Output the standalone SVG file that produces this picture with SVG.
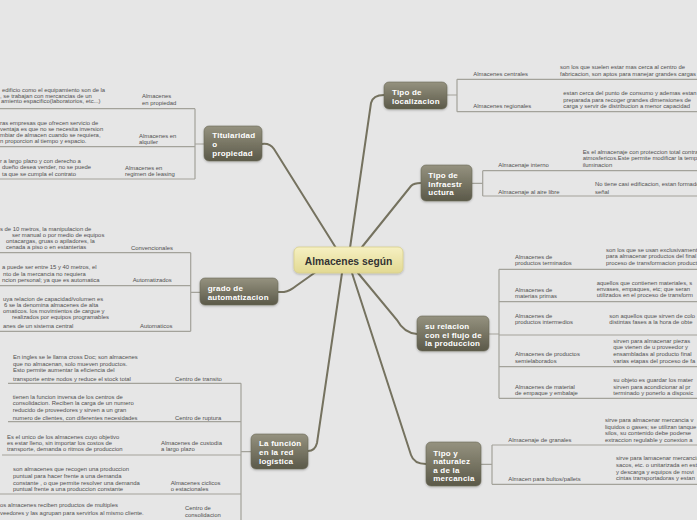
<svg xmlns="http://www.w3.org/2000/svg" width="697" height="520" viewBox="0 0 697 520">
<style>
.t{font-family:"Liberation Sans",Arial,sans-serif;font-size:5.9px;fill:#505050}
.n{font-family:"Liberation Sans",Arial,sans-serif;font-size:8px;font-weight:bold;fill:#ffffff;letter-spacing:0.2px}
.c{font-family:"Liberation Sans",Arial,sans-serif;font-size:10.3px;font-weight:bold;fill:#333333}
.br{stroke:#a3a29a;stroke-width:1.2;fill:none}
.cn{stroke:#75725f;stroke-width:2;fill:none;stroke-linecap:round}
.mn{fill:url(#gm);stroke:#6a6858;stroke-width:0.6;filter:url(#sh)}
</style>
<defs>
<linearGradient id="gm" x1="0" y1="0" x2="0" y2="1"><stop offset="0" stop-color="#95927f"/><stop offset="1" stop-color="#5b5949"/></linearGradient>
<linearGradient id="gc" x1="0" y1="0" x2="0" y2="1"><stop offset="0" stop-color="#f6f0c2"/><stop offset="1" stop-color="#e2d992"/></linearGradient>
<filter id="sh" x="-20%" y="-20%" width="140%" height="150%"><feDropShadow dx="0" dy="1" stdDeviation="0.8" flood-color="#000" flood-opacity="0.25"/></filter>
</defs>
<rect width="697" height="520" fill="#e6e6e6"/>

<g id="connectors">
<path class="cn" d="M350,248 L371,103 Q373,95 384,95"/>
<path class="cn" d="M362,247 L411,186 Q414,183 421,183"/>
<path class="cn" d="M358,273 L397,320 Q404,333 417,334"/>
<path class="cn" d="M352,273 L411,455 Q414,464 426,464"/>
<path class="cn" d="M262,144 Q270,143 274,149 L336,248"/>
<path class="cn" d="M278,292 L284,292 Q290,291 296,286 L320,269"/>
<path class="cn" d="M308,451 Q315,451 317,443 L342,273"/>
<path class="br" d="M447,95 H457 M457,79.3 V111.7 M457,79.3 H697 M457,111.7 H697"/>
<path class="br" d="M472,183.3 H482.7 M482.7,170.7 V196 M482.7,170.7 H697 M482.7,196 H697"/>
<path class="br" d="M489,334 H499 M499,269.3 V398.3 M499,269.3 H697 M499,301.7 H697 M499,335 H697 M499,366.7 H697 M499,398.3 H697"/>
<path class="br" d="M481,464.3 H492 M492,445 V484.3 M492,445 H697 M492,484.3 H697"/>
<path class="br" d="M204,144 H195 M195,108.7 V179 M0,108.7 H195 M0,146.7 H195 M0,179 H195"/>
<path class="br" d="M200,292.3 H190.7 M190.7,252.7 V331.3 M0,252.7 H190.7 M0,285.7 H190.7 M0,331.3 H190.7"/>
<path class="br" d="M251,451.7 H241 M241,383.3 V520 M8,383.3 H241 M8,421.7 H241 M2,455 H241 M0,494 H241"/>
</g>

<g id="center">
<rect x="294" y="247" width="109" height="26" rx="5" fill="url(#gc)" stroke="#d8cf8c" stroke-width="0.8" filter="url(#sh)"/>
<text class="c" x="348.5" y="264.5" text-anchor="middle">Almacenes según</text>
</g>

<g id="tipo-localizacion">
<rect class="mn" x="384" y="82" width="63" height="27" rx="5"/>
<text class="n" x="392" y="94.5">Tipo de</text>
<text class="n" x="392" y="103.5">localizacion</text>
</g>
<g id="loc-items">
<text class="t" x="473.3" y="76">Almacenes centrales</text>
<text class="t" x="560" y="69">son los que suelen estar mas cerca al centro de</text>
<text class="t" x="560" y="76">fabricacion, son aptos para manejar grandes cargas</text>
<text class="t" x="473.3" y="108">Almacenes regionales</text>
<text class="t" x="563.3" y="95">estan cerca del punto de consumo y ademas estan</text>
<text class="t" x="563.3" y="101.5">preparada para recoger grandes dimensiones de</text>
<text class="t" x="563.3" y="108">carga y servir de distribucion a menor capacidad</text>
</g>

<g id="tipo-infraestructura">
<rect class="mn" x="421" y="165" width="51" height="36" rx="5"/>
<text class="n" x="428.3" y="178">Tipo de</text>
<text class="n" x="428.3" y="186.5">Infraestr</text>
<text class="n" x="428.3" y="195">uctura</text>
</g>
<g id="infra-items">
<text class="t" x="498.3" y="166.7">Almacenaje interno</text>
<text class="t" x="582.7" y="154">Es el almacenaje con proteccion total contra</text>
<text class="t" x="582.7" y="160.3">atmosfericos.Este permite modificar la temperatura</text>
<text class="t" x="582.7" y="166.7">iluminacion</text>
<text class="t" x="498.3" y="193.7">Almacenaje al aire libre</text>
<text class="t" x="595" y="186.3">No tiene casi edificacion, estan formados</text>
<text class="t" x="595" y="193.7">señal</text>
</g>

<g id="relacion-flujo">
<rect class="mn" x="417" y="316" width="72" height="35" rx="5"/>
<text class="n" x="425" y="328.5">su relacion</text>
<text class="n" x="425" y="337.5">con el flujo de</text>
<text class="n" x="425" y="346">la produccion</text>
</g>
<g id="relacion-items">
<text class="t" x="515" y="258.7">Almacenes de</text>
<text class="t" x="515" y="265.3">productos terminados</text>
<text class="t" x="606" y="252">son los que se usan exclusivamente</text>
<text class="t" x="606" y="258.3">para almacenar productos del final</text>
<text class="t" x="606" y="264.7">proceso de transformacion productivo</text>
<text class="t" x="515" y="292">Almacenes de</text>
<text class="t" x="515" y="298">materias primas</text>
<text class="t" x="596.7" y="284.7">aquellos que contienen materiales, s</text>
<text class="t" x="596.7" y="291">envases, empaques, etc; que seran</text>
<text class="t" x="596.7" y="297.3">utilizados en el proceso de transform</text>
<text class="t" x="515" y="317.5">Almacenes de</text>
<text class="t" x="515" y="324">productos intermedios</text>
<text class="t" x="609.3" y="317.5">son aquellos quue sirven de colo</text>
<text class="t" x="609.3" y="324">distintas fases a la hora de obte</text>
<text class="t" x="515" y="356">Almacenes de productos</text>
<text class="t" x="515" y="363.3">semielaborados</text>
<text class="t" x="613.3" y="342.7">sirven para almacenar piezas</text>
<text class="t" x="613.3" y="349.3">que vienen de u proveedor y</text>
<text class="t" x="613.3" y="356">ensambladas al producto final</text>
<text class="t" x="613.3" y="363.3">varias etapas del proceso de fa</text>
<text class="t" x="515" y="388.7">Almacenes de material</text>
<text class="t" x="515" y="395.3">de empaque y embalaje</text>
<text class="t" x="613.3" y="382">su objeto es guardar los mater</text>
<text class="t" x="613.3" y="388.7">sirven para acondicionar al pr</text>
<text class="t" x="613.3" y="395.3">terminado y ponerlo a disposic</text>
</g>

<g id="tipo-naturaleza">
<rect class="mn" x="426" y="442" width="55" height="44" rx="5"/>
<text class="n" x="433.3" y="455.5">Tipo y</text>
<text class="n" x="433.3" y="464">naturalez</text>
<text class="n" x="433.3" y="472.5">a de la</text>
<text class="n" x="433.3" y="481">mercancia</text>
</g>
<g id="naturaleza-items">
<text class="t" x="508.3" y="442">Almacenaje de granales</text>
<text class="t" x="605" y="422">sirve para almacenar mercancia v</text>
<text class="t" x="605" y="428.7">liquidos o gases; se utilizan tanque</text>
<text class="t" x="605" y="435.3">silos, su contenido debe poderse</text>
<text class="t" x="605" y="442">extraccion regulable y conexion a</text>
<text class="t" x="508.3" y="481">Almacen para bultos/pallets</text>
<text class="t" x="616" y="460.3">sirve para lamacenar mercancia</text>
<text class="t" x="616" y="467">sacos, etc. o unitarizada en est</text>
<text class="t" x="616" y="473.7">y descarga y equipos de movi</text>
<text class="t" x="616" y="480.3">cintas transportadoras y estan</text>
</g>

<g id="titularidad">
<rect class="mn" x="204" y="126" width="58" height="35" rx="5"/>
<text class="n" x="212.3" y="138">Titularidad</text>
<text class="n" x="212.3" y="146.8">o</text>
<text class="n" x="212.3" y="155.5">propiedad</text>
</g>
<g id="titularidad-items">
<text class="t" x="142" y="98">Almacenes</text>
<text class="t" x="142" y="104.7">en propiedad</text>
<text class="t" x="2" y="92">edificio como el equipamiento son de la</text>
<text class="t" x="0" y="97.7">, se trabajan con mercancias de un</text>
<text class="t" x="1" y="103">amiento espacifico(laboratorios, etc...)</text>
<text class="t" x="139" y="137.7">Almacenes en</text>
<text class="t" x="139" y="144">alquiler</text>
<text class="t" x="0" y="124.7">ras empresas que ofrecen servicio de</text>
<text class="t" x="0" y="130.7">ventaja es que no se necesita inversion</text>
<text class="t" x="0" y="136.5">mbiar de almacen cuando se requiera,</text>
<text class="t" x="0" y="143">n proporcion al tiempo y espacio.</text>
<text class="t" x="125" y="170">Almacenes en</text>
<text class="t" x="125" y="176.3">regimen de leasing</text>
<text class="t" x="0" y="163">r a largo plazo y con derecho a</text>
<text class="t" x="2" y="169.3">dueño desea vender, no se puede</text>
<text class="t" x="2" y="175.7">ta que se cumpla el contrato</text>
</g>

<g id="automatizacion">
<rect class="mn" x="200" y="278" width="78" height="27" rx="5"/>
<text class="n" x="207.7" y="291.3">grado de</text>
<text class="n" x="207.7" y="299.7">automatizacion</text>
</g>
<g id="automatizacion-items">
<text class="t" x="131" y="250">Convencionales</text>
<text class="t" x="0" y="230.7">s de 10 metros, la manipulacion de</text>
<text class="t" x="12" y="236.7">ser manual o por medio de equipos</text>
<text class="t" x="6" y="243">ontacargas, gruas o apiladores, la</text>
<text class="t" x="6" y="249.3">cenada a piso o en estanterias</text>
<text class="t" x="132.7" y="282">Automatizados</text>
<text class="t" x="2" y="269">a puede ser entre 15 y 40 metros, el</text>
<text class="t" x="3" y="276">nto de la mercancia no requiera</text>
<text class="t" x="2" y="282">ncion personal; ya que es automatica</text>
<text class="t" x="140" y="327.7">Automaticos</text>
<text class="t" x="3" y="301">uya relacion de capacidad/volumen es</text>
<text class="t" x="4" y="306.7">6 se la denomina almacenes de alta</text>
<text class="t" x="3" y="312.7">omaticos. los movimientos de cargue y</text>
<text class="t" x="12" y="318.7">realizados por equipos programables</text>
<text class="t" x="3" y="327.7">anes de un sistema central</text>
</g>

<g id="funcion-red">
<rect class="mn" x="251" y="434" width="57" height="35" rx="5"/>
<text class="n" x="259" y="446">La función</text>
<text class="n" x="259" y="455">en la red</text>
<text class="n" x="259" y="463.5">logística</text>
</g>
<g id="funcion-items">
<text class="t" x="175" y="380.7">Centro de transito</text>
<text class="t" x="13" y="359.3">En ingles se le llama cross Doc; son almacenes</text>
<text class="t" x="13" y="365.5">que no almacenan, solo mueven productos.</text>
<text class="t" x="13" y="371.5">Esto permite aumentar la eficiencia del</text>
<text class="t" x="13" y="380.7">transporte entre nodos y reduce el stock total</text>
<text class="t" x="175" y="419.7">Centro de ruptura</text>
<text class="t" x="12.7" y="399.3">tienen la funcion inversa de los centros de</text>
<text class="t" x="12.7" y="405.3">consolidacion. Reciben la carga de un numero</text>
<text class="t" x="12.7" y="411.7">reducido de proveedores y sirven a un gran</text>
<text class="t" x="12.7" y="419.7">numero de clientes, con diferentes necesidades</text>
<text class="t" x="161" y="445.3">Almacenes de custodia</text>
<text class="t" x="161" y="451.3">a largo plazo</text>
<text class="t" x="7" y="438.7">Es el unico de los almacenes cuyo objetivo</text>
<text class="t" x="7" y="444.7">es estar lleno, sin importar los costos de</text>
<text class="t" x="7" y="450.7">transporte, demanda o ritmos de produccion</text>
<text class="t" x="170.7" y="484.7">Almacenes ciclicos</text>
<text class="t" x="170.7" y="491.3">o estacionales</text>
<text class="t" x="13" y="471">son almacenes que recogen una produccion</text>
<text class="t" x="13" y="478">puntual para hacer frente a una demanda</text>
<text class="t" x="13" y="484.7">constante , o que permite resolver una demanda</text>
<text class="t" x="13" y="491">puntual frente a una produccion constante</text>
<text class="t" x="185" y="510">Centro de</text>
<text class="t" x="185" y="517">consolidacion</text>
<text class="t" x="0" y="507">os almacenes reciben productos de multiples</text>
<text class="t" x="0" y="514.7">veedores y las agrupan para servirlos al mismo cliente.</text>
</g>
</svg>
